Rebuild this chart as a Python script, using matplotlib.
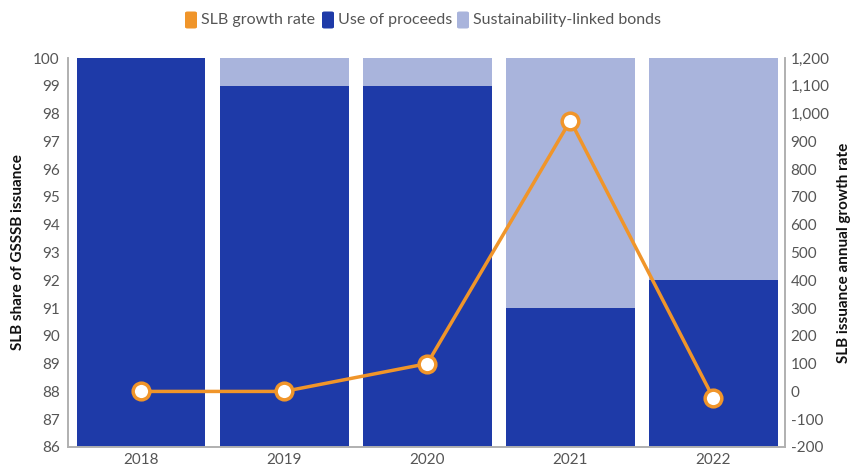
import numpy as np
import matplotlib.pyplot as plt
from matplotlib.patches import FancyBboxPatch

plt.rcParams['font.family'] = ['Lato', 'DejaVu Sans']

years = ['2018', '2019', '2020', '2021', '2022']
use_of_proceeds = [100, 99, 99, 91, 92]      # % share, stacked from the axis floor
slb_share = [0, 1, 1, 9, 8]                  # sustainability-linked bonds on top
slb_growth = [0, 0, 100, 975, -25]           # annual growth rate, right axis

dark_blue = '#1e3aa8'
light_blue = '#a9b4dc'
orange = '#f0952a'
grey_txt = '#555555'
spine_col = '#b0b0b0'

W, H = 852, 472
fig = plt.figure(figsize=(W / 100, H / 100), dpi=100)
ax = fig.add_axes([0.0798, 0.053, 0.8416, 0.824])

x = np.arange(len(years))
base = 86
bottoms = [base] * len(years)
ax.bar(x, np.array(use_of_proceeds) - base, bottom=bottoms, width=0.9,
       color=dark_blue, zorder=2)
ax.bar(x, slb_share, bottom=use_of_proceeds, width=0.9,
       color=light_blue, zorder=2)

ax.set_ylim(86, 100)
ax.set_yticks(range(86, 101))
ax.set_xlim(-0.51, 4.5)
ax.set_xticks(x)
ax.set_xticklabels(years)
ax.tick_params(length=0, labelsize=11, colors=grey_txt, pad=6)
ax.tick_params(axis='x', pad=4)
ax.set_ylabel('SLB share of GSSSB issuance', fontsize=11, fontweight='bold',
              color='#111111', labelpad=6)

ax2 = ax.twinx()
ax2.plot(x, slb_growth, color=orange, lw=2.5, marker='o', markersize=12,
         markerfacecolor='white', markeredgecolor=orange, markeredgewidth=2.5,
         zorder=3)
ax2.set_ylim(-200, 1200)
ax2.set_yticks(range(-200, 1201, 100))
ax2.set_yticklabels([f'{v:,}' for v in range(-200, 1201, 100)])
ax2.tick_params(length=0, labelsize=11, colors=grey_txt, pad=4)
ax2.set_ylabel('SLB issuance annual growth rate', fontsize=11, fontweight='bold',
               color='#111111', labelpad=5)

for a in (ax, ax2):
    a.spines['top'].set_visible(False)
    for s in ('left', 'right', 'bottom'):
        a.spines[s].set_color(spine_col)
        a.spines[s].set_linewidth(1.2)

# legend drawn by hand so the swatches can have rounded corners
legend_items = [('SLB growth rate', orange),
                ('Use of proceeds', dark_blue),
                ('Sustainability-linked bonds', light_blue)]
swatch_px = [185, 322, 457]
sw, sh = 12 / W, 17 / H
ly = 1 - 20 / H
for (label, col), px in zip(legend_items, swatch_px):
    sx = px / W
    fig.patches.append(FancyBboxPatch((sx, ly - sh / 2), sw, sh,
                                      boxstyle='round,pad=0,rounding_size=0.003',
                                      transform=fig.transFigure, facecolor=col,
                                      edgecolor='none'))
    fig.text(sx + sw + 4 / W, ly, label, fontsize=11.5, color=grey_txt,
             va='center', ha='left')

fig.savefig('out.png', dpi=100)
